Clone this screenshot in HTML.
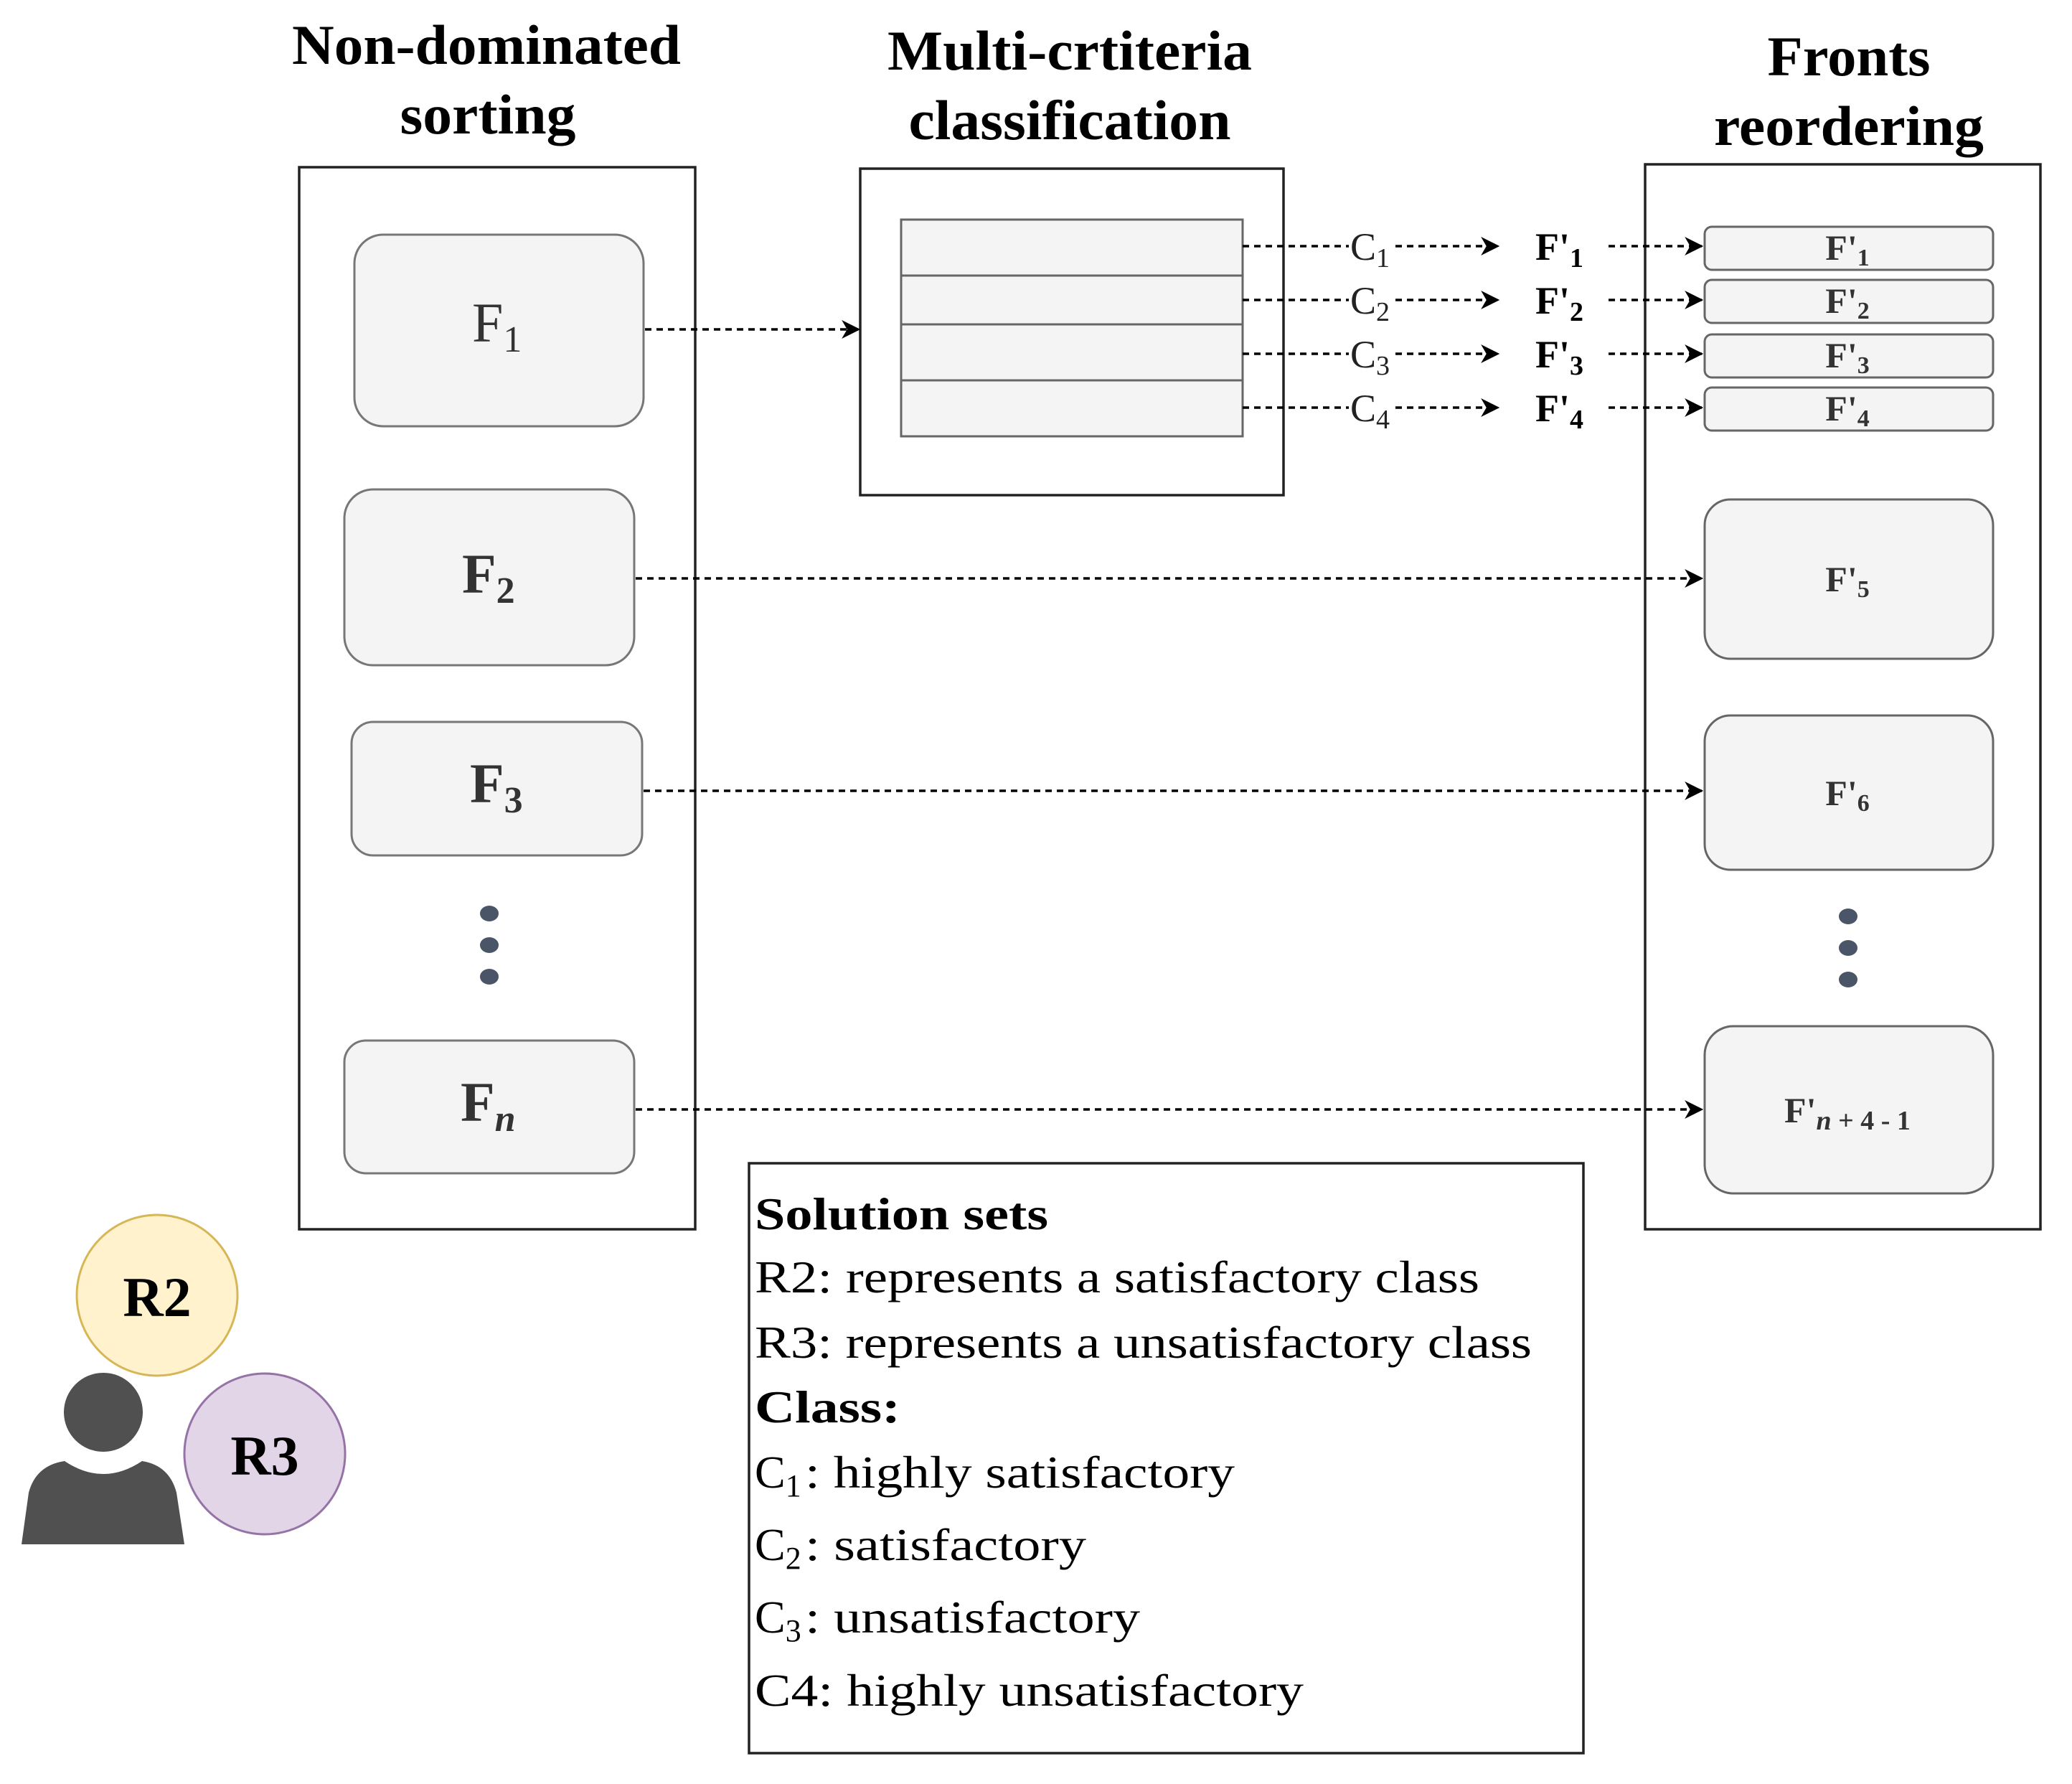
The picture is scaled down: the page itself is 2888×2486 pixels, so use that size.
<!DOCTYPE html>
<html><head><meta charset="utf-8"><style>html,body{margin:0;padding:0;background:#fff}svg{display:block}</style></head>
<body>
<svg width="2888" height="2486" viewBox="0 0 2888 2486" xmlns="http://www.w3.org/2000/svg" font-family="'Liberation Serif', serif">
<defs>
<marker id="b" viewBox="0 0 12 12" refX="11" refY="6" markerWidth="26" markerHeight="26" markerUnits="userSpaceOnUse" orient="auto">
<path d="M0,0 L12,6 L0,12 L3.5,6 z" fill="#000"/></marker>
</defs>
<g font-weight="bold" font-size="78" fill="#000" text-anchor="middle">
<text x="678" y="89" textLength="542" lengthAdjust="spacingAndGlyphs">Non-dominated</text>
<text x="680" y="186" textLength="245" lengthAdjust="spacingAndGlyphs">sorting</text>
<text x="1491" y="97" textLength="508" lengthAdjust="spacingAndGlyphs">Multi-crtiteria</text>
<text x="1491" y="194" textLength="449" lengthAdjust="spacingAndGlyphs">classification</text>
<text x="2577" y="105" textLength="227" lengthAdjust="spacingAndGlyphs">Fronts</text>
<text x="2577" y="202" textLength="376" lengthAdjust="spacingAndGlyphs">reordering</text>
</g>
<g fill="#fff" stroke="#222" stroke-width="3.5">
<rect x="417" y="233" width="552" height="1480"/>
<rect x="1199" y="235" width="590" height="455"/>
<rect x="2293" y="229" width="551" height="1484"/>
<rect x="1044" y="1621" width="1163" height="822"/>
</g>
<g fill="#f4f4f4" stroke="#777" stroke-width="3">
<rect x="494" y="327" width="403" height="267" rx="40"/>
<rect x="480" y="682" width="404" height="245" rx="40"/>
<rect x="490" y="1006" width="405" height="186" rx="30"/>
<rect x="480" y="1450" width="404" height="185" rx="30"/>
</g>
<g fill="#333" font-size="78">
<text x="658" y="476">F<tspan font-size="52" dy="14">1</tspan></text>
<text x="644" y="826" font-weight="bold">F<tspan font-size="52" dy="14">2</tspan></text>
<text x="655" y="1118" font-weight="bold">F<tspan font-size="52" dy="14">3</tspan></text>
<text x="642" y="1562" font-weight="bold">F<tspan font-size="52" dy="14" font-style="italic">n</tspan></text>
</g>
<g fill="#4a5568">
<ellipse cx="682" cy="1273" rx="13" ry="11"/><ellipse cx="682" cy="1317" rx="13" ry="11"/><ellipse cx="682" cy="1361" rx="13" ry="11"/>
<ellipse cx="2576" cy="1277" rx="13" ry="11"/><ellipse cx="2576" cy="1321" rx="13" ry="11"/><ellipse cx="2576" cy="1365" rx="13" ry="11"/>
</g>
<g fill="#f4f4f4" stroke="#666" stroke-width="3">
<rect x="1256" y="306" width="476" height="302"/>
<line x1="1256" y1="384" x2="1732" y2="384"/>
<line x1="1256" y1="452" x2="1732" y2="452"/>
<line x1="1256" y1="530" x2="1732" y2="530"/>
</g>
<g fill="#f4f4f4" stroke="#666" stroke-width="3">
<rect x="2376" y="316" width="402" height="60" rx="10"/>
<rect x="2376" y="390" width="402" height="60" rx="10"/>
<rect x="2376" y="466" width="402" height="60" rx="10"/>
<rect x="2376" y="540" width="402" height="60" rx="10"/>
<rect x="2376" y="696" width="402" height="222" rx="36"/>
<rect x="2376" y="997" width="402" height="215" rx="36"/>
<rect x="2376" y="1430" width="402" height="233" rx="40"/>
</g>
<g fill="#333" font-weight="bold" font-size="50" text-anchor="middle">
<text x="2575" y="362">F'<tspan font-size="34" dy="8">1</tspan></text>
<text x="2575" y="436">F'<tspan font-size="34" dy="8">2</tspan></text>
<text x="2575" y="512">F'<tspan font-size="34" dy="8">3</tspan></text>
<text x="2575" y="586">F'<tspan font-size="34" dy="8">4</tspan></text>
<text x="2575" y="824">F'<tspan font-size="34" dy="8">5</tspan></text>
<text x="2575" y="1122">F'<tspan font-size="34" dy="8">6</tspan></text>
<text x="2575" y="1564">F'<tspan font-size="38" dy="10" font-style="italic">n</tspan><tspan font-size="38"> + 4 - 1</tspan></text>
</g>
<g stroke="#000" stroke-width="3.5" stroke-dasharray="9 7" fill="none">
<line x1="899" y1="459" x2="1197" y2="459" marker-end="url(#b)"/>
<line x1="886" y1="806" x2="2372" y2="806" marker-end="url(#b)"/>
<line x1="897" y1="1102" x2="2372" y2="1102" marker-end="url(#b)"/>
<line x1="886" y1="1546" x2="2372" y2="1546" marker-end="url(#b)"/>
<line x1="1732" y1="343" x2="1880" y2="343"/><line x1="1945" y1="343" x2="2088" y2="343" marker-end="url(#b)"/><line x1="2242" y1="343" x2="2372" y2="343" marker-end="url(#b)"/>
<line x1="1732" y1="418" x2="1880" y2="418"/><line x1="1945" y1="418" x2="2088" y2="418" marker-end="url(#b)"/><line x1="2242" y1="418" x2="2372" y2="418" marker-end="url(#b)"/>
<line x1="1732" y1="493" x2="1880" y2="493"/><line x1="1945" y1="493" x2="2088" y2="493" marker-end="url(#b)"/><line x1="2242" y1="493" x2="2372" y2="493" marker-end="url(#b)"/>
<line x1="1732" y1="568" x2="1880" y2="568"/><line x1="1945" y1="568" x2="2088" y2="568" marker-end="url(#b)"/><line x1="2242" y1="568" x2="2372" y2="568" marker-end="url(#b)"/>
</g>
<g font-size="54" fill="#222">
<text x="1882" y="362">C<tspan font-size="38" dy="10">1</tspan></text>
<text x="1882" y="437">C<tspan font-size="38" dy="10">2</tspan></text>
<text x="1882" y="512">C<tspan font-size="38" dy="10">3</tspan></text>
<text x="1882" y="587">C<tspan font-size="38" dy="10">4</tspan></text>
</g>
<g font-size="54" fill="#000" font-weight="bold">
<text x="2140" y="362">F'<tspan font-size="38" dy="10">1</tspan></text>
<text x="2140" y="437">F'<tspan font-size="38" dy="10">2</tspan></text>
<text x="2140" y="512">F'<tspan font-size="38" dy="10">3</tspan></text>
<text x="2140" y="587">F'<tspan font-size="38" dy="10">4</tspan></text>
</g>
<g font-size="64" fill="#000">
<text x="1052" y="1713" font-weight="bold" textLength="409" lengthAdjust="spacingAndGlyphs">Solution sets</text>
<text x="1052" y="1801" textLength="1010" lengthAdjust="spacingAndGlyphs">R2: represents a satisfactory class</text>
<text x="1052" y="1892" textLength="1083" lengthAdjust="spacingAndGlyphs">R3: represents a unsatisfactory class</text>
<text x="1052" y="1982" font-weight="bold" textLength="203" lengthAdjust="spacingAndGlyphs">Class:</text>
<text x="1052" y="2073">C<tspan font-size="44" dy="12">1</tspan></text>
<text x="1122" y="2073" textLength="599" lengthAdjust="spacingAndGlyphs">: highly satisfactory</text>
<text x="1052" y="2174">C<tspan font-size="44" dy="12">2</tspan></text>
<text x="1122" y="2174" textLength="392" lengthAdjust="spacingAndGlyphs">: satisfactory</text>
<text x="1052" y="2275">C<tspan font-size="44" dy="12">3</tspan></text>
<text x="1122" y="2275" textLength="467" lengthAdjust="spacingAndGlyphs">: unsatisfactory</text>
<text x="1052" y="2377" textLength="765" lengthAdjust="spacingAndGlyphs">C4: highly unsatisfactory</text>
</g>
<circle cx="219" cy="1805" r="112" fill="#fff2cc" stroke="#d6b656" stroke-width="3"/>
<text x="219" y="1834" font-size="78" font-weight="bold" text-anchor="middle">R2</text>
<circle cx="144" cy="1968" r="55" fill="#505050"/>
<path d="M30,2152 L40,2080 Q50,2042 90,2036 Q144,2072 198,2036 Q236,2042 246,2080 L257,2152 Z" fill="#505050"/>
<circle cx="369" cy="2026" r="112" fill="#e1d5e7" stroke="#9673a6" stroke-width="3"/>
<text x="369" y="2055" font-size="78" font-weight="bold" text-anchor="middle">R3</text>
</svg>
</body></html>
